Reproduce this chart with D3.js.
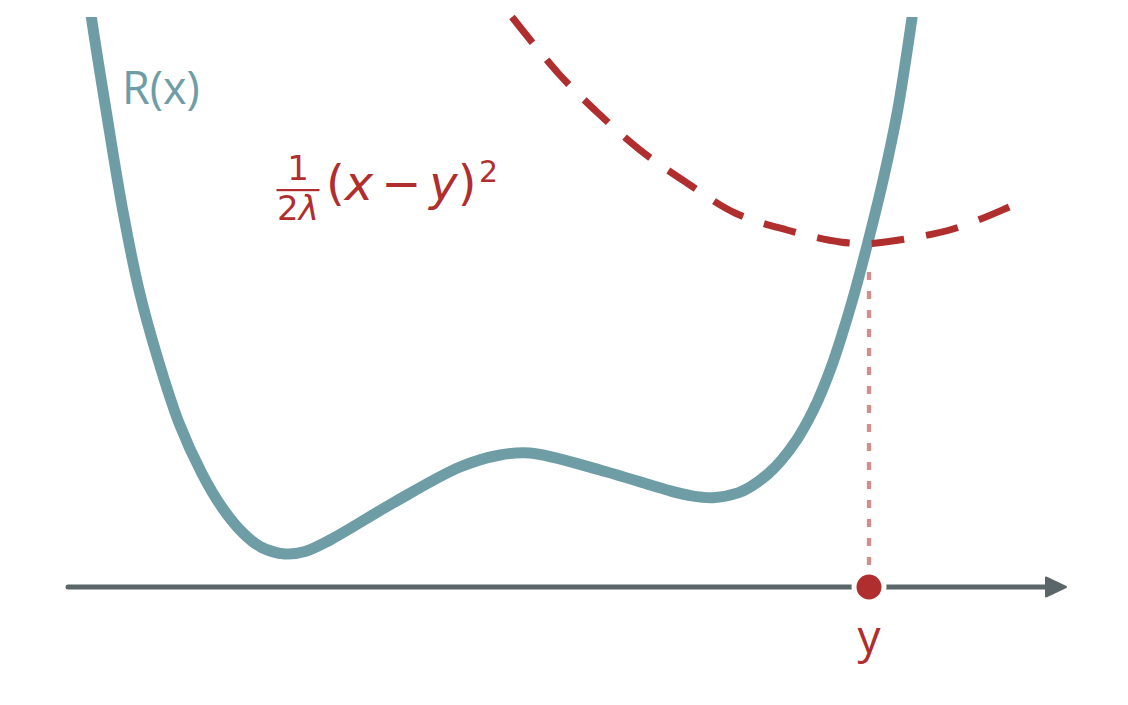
<!DOCTYPE html>
<html>
<head>
<meta charset="utf-8">
<script src="https://cdn.jsdelivr.net/npm/d3@7"></script>
<style>
	html, body { margin: 0; padding: 0; background: #fff; }
	svg { display: block; }
</style>
</head>
<body>
<script>
// curve R(x), points (data units)
const rX = [0.195, 0.233, 0.38, 0.547, 0.71, 0.893, 1.11, 1.337, 1.537, 1.75, 1.928, 2.17, 2.37, 2.62, 3.25, 3.92, 4.32, 4.62, 5.32, 5.99, 6.22, 6.45, 6.70, 6.822, 7.01, 7.136, 7.286, 7.403, 7.501, 7.633, 7.724, 7.845, 7.997, 8.158, 8.297, 8.442, 8.484];
const rY = [6.00, 5.703, 4.77, 3.77, 2.97, 2.30, 1.64, 1.14, 0.80, 0.54, 0.40, 0.33, 0.355, 0.47, 0.84, 1.20, 1.32, 1.34, 1.17, 0.97, 0.915, 0.893, 0.941, 1.00, 1.14, 1.27, 1.47, 1.67, 1.87, 2.20, 2.47, 2.87, 3.44, 4.10, 4.77, 5.703, 6.00];

// proximal term 1/(2λ)(x-y)^2, dashed
const quadX = [4.44, 4.90, 5.30, 5.72, 6.19, 6.67, 7.19, 7.72, 8.01, 8.31, 8.85, 9.39, 9.52];
const quadY = [5.70, 5.14, 4.74, 4.37, 4.04, 3.74, 3.57, 3.45, 3.435, 3.47, 3.58, 3.79, 3.85];

const axisExtent = [0, 9.98];
const yPoint = 8.01;
const guideTop = 3.15;

const width = 1128, height = 705;
const teal = "#6e9da6", red = "#b02e2e", grey = "#5b6669";

const xs = d3.scaleLinear().domain([0, 10]).range([68, 1068]);
const ys = d3.scaleLinear().domain([0, 5.7]).range([587, 17]);

const svg = d3.select("body").append("svg")
	.attr("width", width)
	.attr("height", height);

svg.append("defs").append("clipPath")
	.attr("id", "plotClip")
	.append("rect")
	.attr("x", 0)
	.attr("y", ys(5.7))
	.attr("width", width)
	.attr("height", height);

const line = d3.line()
	.x(d => xs(d[0]))
	.y(d => ys(d[1]))
	.curve(d3.curveCatmullRom.alpha(0.5));

// axis with arrow head
svg.append("line")
	.attr("x1", xs(axisExtent[0]))
	.attr("x2", xs(axisExtent[1]) - 15)
	.attr("y1", ys(0))
	.attr("y2", ys(0))
	.attr("stroke", grey)
	.attr("stroke-width", 5)
	.attr("stroke-linecap", "round");

const tip = xs(axisExtent[1]);
svg.append("path")
	.attr("d", `M${tip},${ys(0)} L${tip - 20},${ys(0) - 9.5} L${tip - 20},${ys(0) + 9.5} Z`)
	.attr("fill", grey)
	.attr("stroke", grey)
	.attr("stroke-width", 2)
	.attr("stroke-linejoin", "round");

// dotted guide from the parabola minimum down to y
svg.append("line")
	.attr("x1", xs(yPoint))
	.attr("x2", xs(yPoint))
	.attr("y1", ys(guideTop))
	.attr("y2", ys(0) - 18)
	.attr("stroke", red)
	.attr("stroke-opacity", 0.55)
	.attr("stroke-width", 4.3)
	.attr("stroke-dasharray", "8,11");

// R(x)
svg.append("path")
	.datum(d3.zip(rX, rY))
	.attr("clip-path", "url(#plotClip)")
	.attr("d", line)
	.attr("fill", "none")
	.attr("stroke", teal)
	.attr("stroke-width", 11);

// dashed parabola
svg.append("path")
	.datum(d3.zip(quadX, quadY))
	.attr("d", line)
	.attr("fill", "none")
	.attr("stroke", red)
	.attr("stroke-width", 7)
	.attr("stroke-dasharray", "33,22");

// point y on the axis
svg.append("circle")
	.attr("cx", xs(yPoint))
	.attr("cy", ys(0))
	.attr("r", 15)
	.attr("fill", red)
	.attr("stroke", "#fff")
	.attr("stroke-width", 5);

svg.append("text")
	.attr("x", xs(yPoint))
	.attr("y", ys(0) + 66)
	.attr("text-anchor", "middle")
	.attr("font-family", "Open Sans")
	.attr("font-size", 46)
	.attr("fill", red)
	.text("y");

svg.append("text")
	.attr("x", xs(0.54))
	.attr("y", ys(4.83))
	.attr("font-family", "Open Sans")
	.attr("font-size", 45)
	.attr("fill", teal)
	.text("R(x)");

// formula 1/(2λ)(x − y)²
const fx = xs(2.3), fy = ys(3.87);
const formula = svg.append("g").attr("fill", red).attr("font-family", "DejaVu Sans");
formula.append("text")
	.attr("x", fx)
	.attr("y", fy - 20)
	.attr("text-anchor", "middle")
	.attr("font-size", 34)
	.text("1");
formula.append("rect")
	.attr("x", fx - 21.5)
	.attr("y", fy - 11)
	.attr("width", 43)
	.attr("height", 2.2);
const den = formula.append("text")
	.attr("x", fx)
	.attr("y", fy + 20)
	.attr("text-anchor", "middle")
	.attr("font-size", 34);
den.append("tspan").text("2");
den.append("tspan").attr("font-style", "italic").text("λ");

const main = formula.append("text")
	.attr("x", fx + 28)
	.attr("y", fy)
	.attr("font-size", 48);
main.append("tspan").text("(");
main.append("tspan").attr("font-style", "italic").text("x");
main.append("tspan").attr("dx", 8).text("−");
main.append("tspan").attr("dx", 8).attr("font-style", "italic").text("y");
main.append("tspan").text(")");

formula.append("text")
	.attr("x", fx + 181)
	.attr("y", fy - 18)
	.attr("font-size", 30)
	.text("2");
</script>
</body>
</html>
